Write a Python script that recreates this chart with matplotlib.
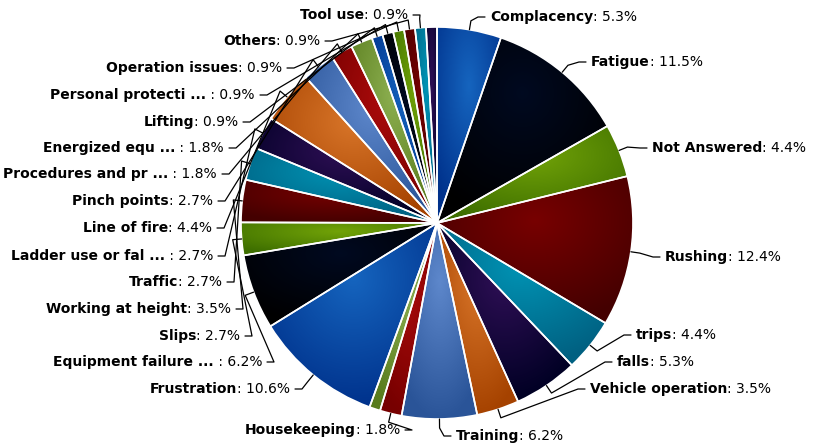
import numpy as np
import matplotlib
matplotlib.use("Agg")
import matplotlib.pyplot as plt
from matplotlib.colors import to_rgb
from matplotlib.offsetbox import TextArea, HPacker, AnnotationBbox

# slices, clockwise from 12 o'clock (names as shown, '' = no label drawn)
names = ["Complacency", "Fatigue", "Not Answered", "Rushing", "trips", "falls",
         "Vehicle operation", "Training", "Housekeeping", "", "Frustration",
         "Equipment failure ...", "Slips", "Working at height", "Traffic",
         "Ladder use or fal ...", "Line of fire", "Pinch points",
         "Procedures and pr ...", "Energized equ ...", "Lifting",
         "Personal protecti ...", "Operation issues", "Others", "Tool use", ""]
percents = [5.3, 11.5, 4.4, 12.4, 4.4, 5.3,
            3.5, 6.2, 1.8, 0.9, 10.6,
            6.2, 2.7, 3.5, 2.7,
            2.7, 4.4, 2.7,
            1.8, 1.8, 0.9,
            0.9, 0.9, 0.9, 0.9, 0.9]
palette = ['#2f7ed8', '#0d233a', '#8bbc21', '#910000', '#1aadce',
           '#492970', '#f28f43', '#77a1e5', '#c42525', '#a6c96a']

# label placement in pixels (x, y from top), side of pie
label_pos = [(490, 17, 'r'), (591, 62, 'r'), (652, 148, 'r'), (665, 257, 'r'),
             (636, 335, 'r'), (617, 362, 'r'), (590, 389, 'r'), (456, 436, 'r'),
             (400, 430, 'l'), None, (290, 389, 'l'), (262, 362, 'l'),
             (240, 336, 'l'), (231, 309, 'l'), (222, 282, 'l'), (213, 256, 'l'),
             (212, 228, 'l'), (213, 201, 'l'), (217, 174, 'l'), (224, 148, 'l'),
             (238, 122, 'l'), (255, 95, 'l'), (282, 68, 'l'), (320, 41, 'l'),
             (408, 15, 'l'), None]

W, H = 815, 448
cx, cy, R = 437, H - 223, 196

fig = plt.figure(figsize=(W / 100, H / 100), dpi=100)
ax = fig.add_axes([0, 0, 1, 1])

colors = [palette[i % len(palette)] for i in range(len(percents))]
wedges, _ = ax.pie(percents, center=(cx, cy), radius=R, startangle=90,
                   counterclock=False, colors=colors,
                   wedgeprops=dict(edgecolor='white', linewidth=1.2))
ax.set_xlim(0, W)
ax.set_ylim(0, H)
ax.set_aspect('equal')
ax.axis('off')

# radial gradient fill per slice, darker towards the rim
for w, c in zip(wedges, colors):
    c0 = np.clip(np.array(to_rgb(c)) - 0.1, 0, 1)
    c1 = np.clip(np.array(to_rgb(c)) - 0.3, 0, 1)
    ext = w.get_path().get_extents()
    bx0, by0, bx1, by1 = ext.x0, ext.y0, ext.x1, ext.y1
    bw, bh = max(bx1 - bx0, 1), max(by1 - by0, 1)
    X, Y = np.meshgrid(np.linspace(bx0, bx1, 300), np.linspace(by0, by1, 300))
    gcx, gcy = bx0 + 0.5 * bw, by1 - 0.3 * bh
    t = np.clip(np.sqrt(((X - gcx) / bw) ** 2 + ((Y - gcy) / bh) ** 2) / 0.7, 0, 1)
    img = c0[None, None, :] * (1 - t[..., None]) + c1[None, None, :] * t[..., None]
    im = ax.imshow(img, extent=(bx0, bx1, by0, by1), origin='lower',
                   interpolation='bilinear', zorder=0.5)
    im.set_clip_path(w)
    w.set_facecolor('none')
    w.set_zorder(1)
ax.set_xlim(0, W)
ax.set_ylim(0, H)

# labels with connectors
total = sum(percents)
angle = 90.0
for name, p, pos in zip(names, percents, label_pos):
    span = 360.0 * p / total
    mid = np.deg2rad(angle - span / 2)
    angle -= span
    if pos is None or not name:
        continue
    lx, ly_top, side = pos
    ly = H - ly_top
    ex, ey = cx + R * np.cos(mid), cy + R * np.sin(mid)
    bx, by = cx + (R + 9) * np.cos(mid), cy + (R + 9) * np.sin(mid)
    if side == 'r':
        a1, a2 = lx - 5, lx - 12
    else:
        a1, a2 = lx + 5, lx + 12
    ax.plot([ex, bx, a2, a1], [ey, by, ly, ly], color='black', lw=0.9,
            zorder=2, solid_capstyle='round')

    sep = ' : ' if name.endswith('...') else ': '
    t1 = TextArea(name, textprops=dict(fontsize=10, fontweight='bold', color='black'))
    t2 = TextArea(sep + '%.1f%%' % p, textprops=dict(fontsize=10, color='black'))
    box = HPacker(children=[t1, t2], align='baseline', pad=0, sep=0)
    ab = AnnotationBbox(box, (lx, ly), frameon=False, pad=0,
                        box_alignment=(0 if side == 'r' else 1, 0.5), zorder=3)
    ax.add_artist(ab)

plt.savefig('out.png', dpi=100)
plt.close()
